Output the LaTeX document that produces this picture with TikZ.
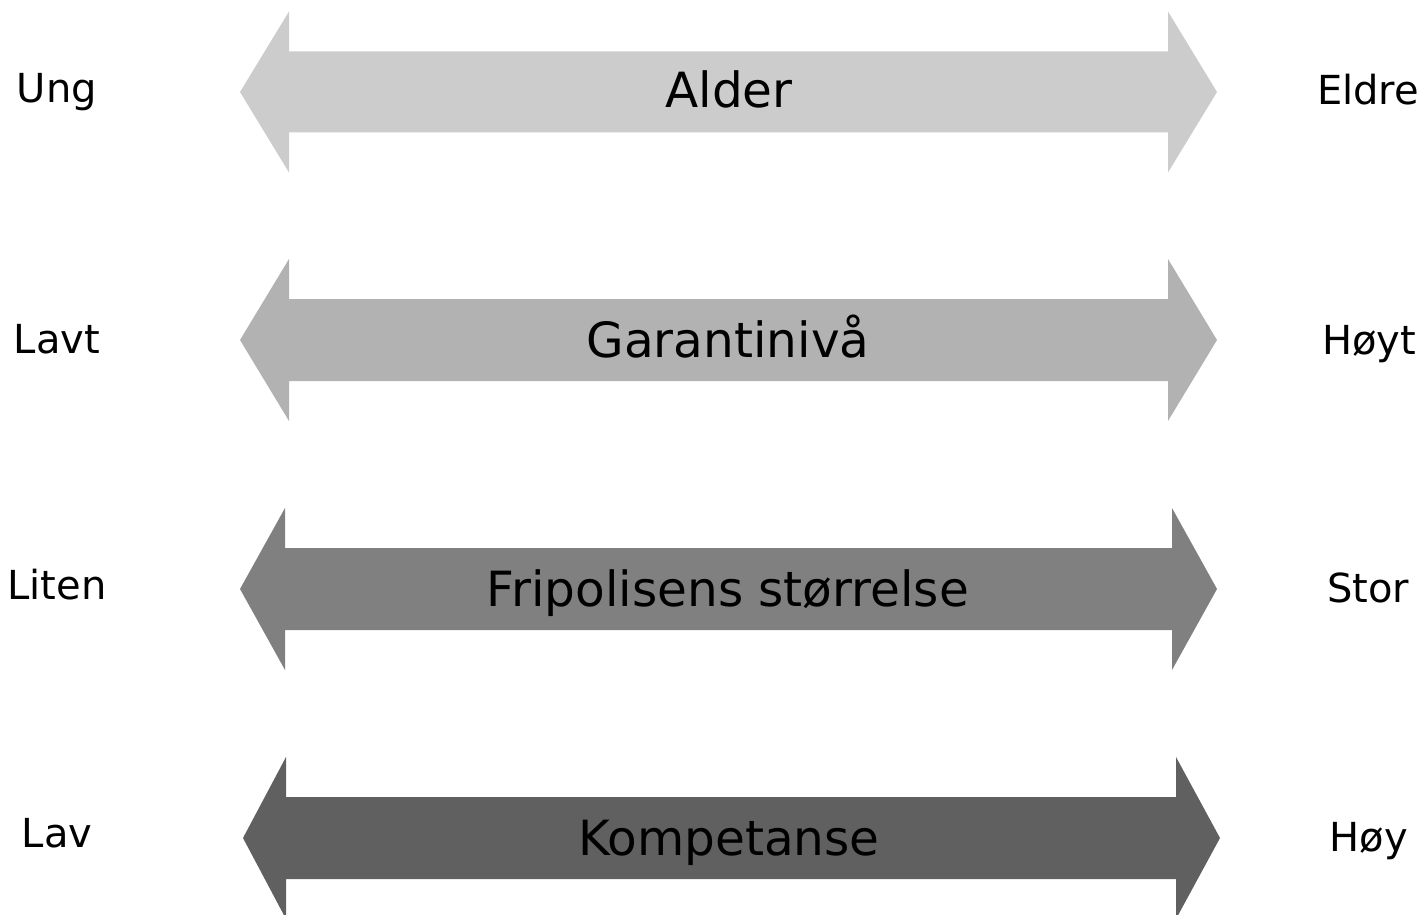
\documentclass[tikz,border=0pt]{standalone}
\usepackage{fontspec}
\setmainfont{DejaVu Sans}
\begin{document}
\begin{tikzpicture}[x=1pt,y=-1pt,
  maintext/.style={font=\fontsize{48.5}{58}\selectfont, anchor=base, inner sep=0pt},
  sidetext/.style={font=\fontsize{40}{48}\selectfont, anchor=base, inner sep=0pt}]
\useasboundingbox (0,0) rectangle (1428,915);
% #1 tipL, #2 baseL, #3 baseR, #4 tipR, #5 yc, #6 headhalf, #7 shafthalf, #8 colour
\newcommand\dblarr[8]{%
  \fill[#8] (#1,#5) -- (#2,#5-#6) -- (#2,#5-#7) -- (#3,#5-#7) -- (#3,#5-#6)
    -- (#4,#5) -- (#3,#5+#6) -- (#3,#5+#7) -- (#2,#5+#7) -- (#2,#5+#6) -- cycle;}
\definecolor{c1}{HTML}{CCCCCC}
\definecolor{c2}{HTML}{B2B2B2}
\definecolor{c3}{HTML}{808080}
\definecolor{c4}{HTML}{606060}
\dblarr{240}{289}{1168}{1217}{92}{80.5}{40.5}{c1}
\dblarr{240}{289}{1168}{1217}{340}{81}{41}{c2}
\dblarr{240}{285}{1172}{1217}{589}{81}{41}{c3}
\dblarr{243}{286}{1176}{1220}{838}{81}{41}{c4}
\node[maintext] (t1) at (729,108) {Alder};
\node[maintext] (t2) at (728,357) {Garantinivå};
\node[maintext] (t3) at (728,606) {Fripolisens størrelse};
\node[maintext] (t4) at (729,855) {Kompetanse};
\node[sidetext] (l1) at (57,103) {Ung};
\node[sidetext] (l2) at (57,353) {Lavt};
\node[sidetext] (l3) at (57,599) {Liten};
\node[sidetext] (l4) at (57,847) {Lav};
\node[sidetext] (r1) at (1368,105) {Eldre};
\node[sidetext] (r2) at (1369,354) {Høyt};
\node[sidetext] (r3) at (1368,602) {Stor};
\node[sidetext] (r4) at (1369,851) {Høy};
\end{tikzpicture}
\end{document}
